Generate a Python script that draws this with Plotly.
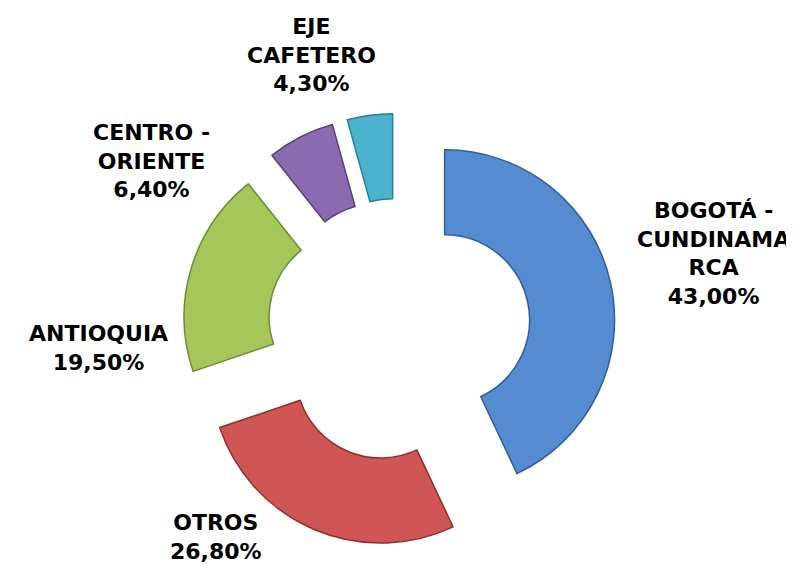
import plotly.graph_objs as go

# Data
regions = ['BOGOTÁ -<br>CUNDINAMA<br>RCA', 'OTROS', 'ANTIOQUIA', 'CENTRO -<br>ORIENTE', 'EJE<br>CAFETERO']
shares = [43.0, 26.8, 19.5, 6.4, 4.3]
colors = ['#558BD0', '#D05555', '#A5C75A', '#8A6BAF', '#4BB3CD']
line_colors = ['#2F5E99', '#8E2F2C', '#6E8B36', '#57407A', '#2B7F96']

# label centres in pixels
label_pos = [(705, 245), (208, 529), (90, 340), (143, 153), (303, 47)]

W, H = 794, 564

fig = go.Figure()

fig.add_trace(
    go.Pie(
        labels = regions,
        values = shares,
        hole = 0.5,
        sort = False,
        direction = 'clockwise',
        rotation = 0,
        pull = [0.275] * 5,
        marker = dict(colors = colors, line = dict(color = line_colors, width = 1.5)),
        textinfo = 'none',
        hoverinfo = 'label+percent',
        showlegend = False,
        domain = dict(x = [0.2194, 0.7654], y = [0.0448, 0.8134])
    )
)

for name, v, (px, py) in zip(regions, shares, label_pos):
    fig.add_annotation(
        x = px / W,
        y = 1 - py / H,
        xref = 'paper',
        yref = 'paper',
        text = '<b>' + name + '<br>' + f'{v:.2f}'.replace('.', ',') + '%</b>',
        showarrow = False,
        align = 'center',
        xanchor = 'center',
        yanchor = 'middle',
        font = dict(family = 'DejaVu Sans', size = 22, color = 'black')
    )

fig.update_layout(
    width = W,
    height = H,
    margin = dict(l = 0, r = 0, t = 0, b = 0),
    paper_bgcolor = 'white',
    plot_bgcolor = 'white'
)

fig.write_html('out.html')
